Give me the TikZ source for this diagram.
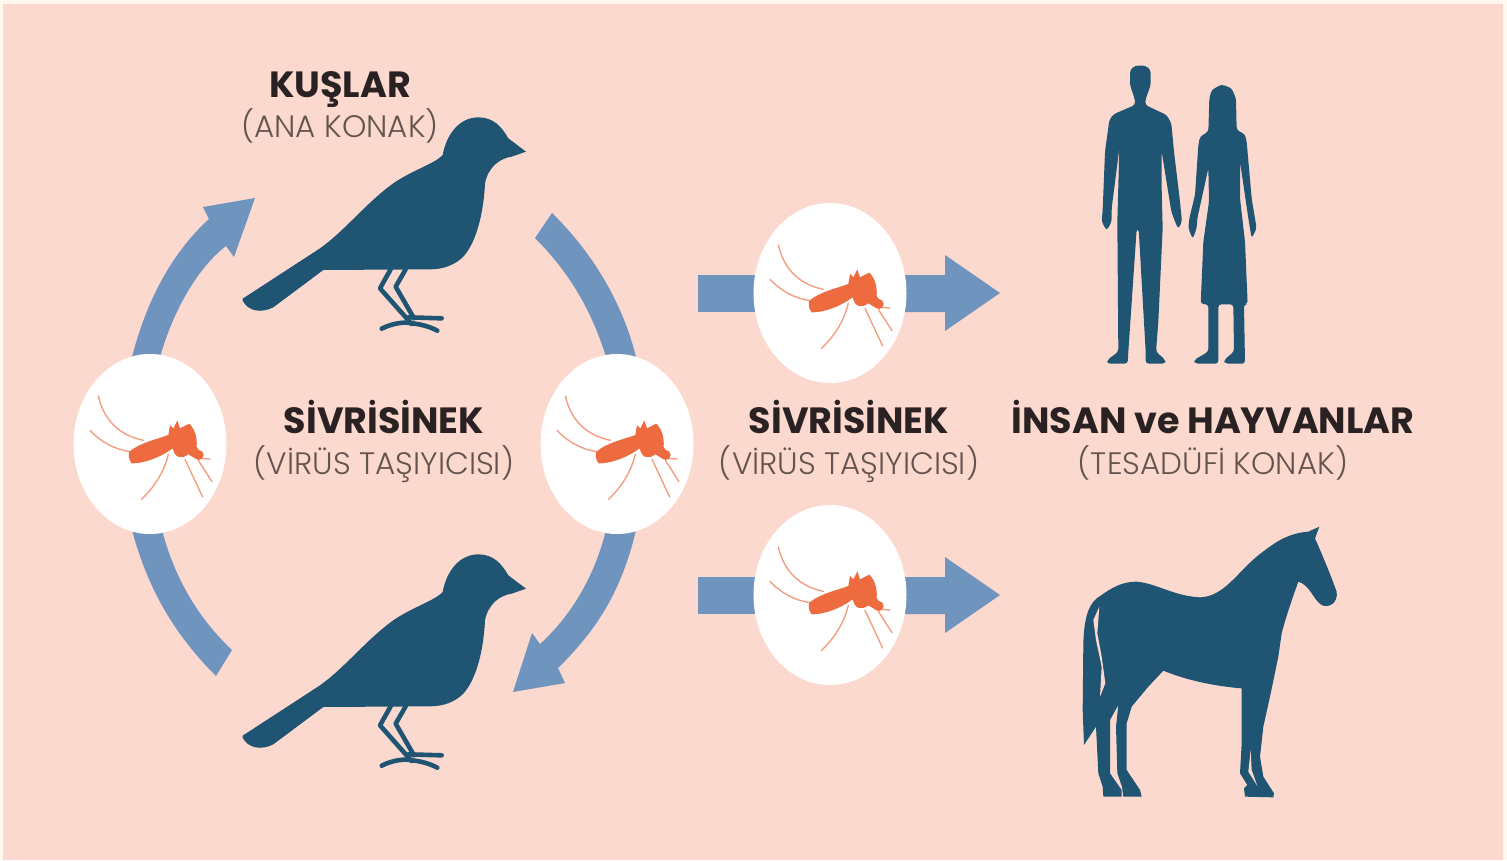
\documentclass[tikz,border=0pt]{standalone}
\usepackage{fontspec}
\setmainfont{Poppins}
\newfontfamily\lightfont{Poppins Light}
\usetikzlibrary{shapes.geometric}
\definecolor{bgpink}{HTML}{FCD9CF}
\definecolor{edgecream}{HTML}{FFF8EE}
\definecolor{darkblue}{HTML}{1F5472}
\definecolor{midblue}{HTML}{6F94BE}
\definecolor{moscolor}{HTML}{EE6A3F}
\definecolor{headtext}{HTML}{2A2123}
\definecolor{subtext}{HTML}{64544F}
\tikzset{
  disc/.style={ellipse,fill=white,minimum width=153pt,minimum height=180pt,inner sep=0pt},
  headlabel/.style={anchor=base,inner sep=0pt,text=headtext,font=\fontsize{36.5}{38}\selectfont\bfseries},
  sublabel/.style={anchor=base,inner sep=0pt,text=subtext,font=\fontsize{31}{33}\selectfont\lightfont},
  flowshape/.style={fill=midblue},
  silhouette/.style={fill=darkblue,rounded corners=3pt},
  slit/.style={fill=bgpink},
  birdleg/.style={draw=darkblue,line width=4.6pt,line cap=round,line join=round},
  mosleg/.style={draw=moscolor!65!white,line width=1.4pt,line cap=round},
}
\newcommand{\birdshape}[2]{%
\begin{scope}[shift={(#1,#2)},scale=0.33333]
\fill[darkblue] (38,716) -- (270,565) .. controls (340,515) and (400,440) .. (470,385)
 .. controls (530,335) and (610,315) .. (638,285) .. controls (650,220) and (690,172) .. (745,172)
 .. controls (790,172) and (815,200) .. (835,235) -- (888,275) -- (845,290)
 .. controls (810,295) and (775,320) .. (765,370) .. controls (762,440) and (745,540) .. (700,590)
 .. controls (675,615) and (640,628) .. (600,628)
 -- (280,630) -- (130,742) .. controls (95,760) and (55,755) .. (38,722) -- cycle;
\draw[birdleg] (482,628) -- (450,685) -- (545,792);
\draw[birdleg] (527,628) -- (497,680) -- (552,775);
\draw[birdleg] (455,806) .. controls (490,788) and (530,785) .. (545,790) .. controls (570,792) and (600,800) .. (622,812);
\draw[birdleg] (535,772) -- (635,775);
\end{scope}}
\newcommand{\mosqshape}[2]{%
\begin{scope}[shift={(#1-90,#2-103)},scale=0.33333]
\draw[mosleg] (115,165) .. controls (135,250) and (190,285) .. (250,298);
\draw[mosleg] (90,268) .. controls (125,305) and (165,325) .. (210,332);
\draw[mosleg] (325,340) .. controls (310,400) and (280,440) .. (245,475);
\draw[mosleg] (375,355) -- (428,468);
\draw[mosleg] (415,358) -- (456,422);
\draw[mosleg] (420,352) -- (450,354);
\fill[moscolor] (208,332) .. controls (240,305) and (290,295) .. (325,282) -- (330,252) -- (340,262) -- (352,238)
 -- (360,262) -- (388,248) .. controls (405,265) and (412,290) .. (410,318) -- (428,345) -- (405,352) -- (385,340)
 .. controls (365,355) and (345,352) .. (338,322) .. controls (300,350) and (250,368) .. (215,367) .. controls (205,355) and (205,342) .. (208,332) -- cycle;
\fill[moscolor] (416,342) circle [radius=15];
\end{scope}}
\begin{document}
\begin{tikzpicture}[x=1pt,y=-1pt]
\useasboundingbox (0,0) rectangle (1507,860);
\fill[edgecream] (0,0) rectangle (1507,860);
\fill[bgpink] (3,4) rectangle (1503,860);
% ring arrows
\fill[flowshape] (132,357) .. controls (148,295) and (175,250) .. (209,219) -- (203,207) -- (255,198) -- (234,257) -- (226,246)
 .. controls (195,270) and (172,315) .. (160,357) -- cycle;
\fill[flowshape] (552,213) .. controls (590,250) and (622,300) .. (636,357) -- (606,357)
 .. controls (590,305) and (565,268) .. (535,238) -- cycle;
\fill[flowshape] (132,530) .. controls (148,590) and (175,635) .. (216,676) -- (232,650)
 .. controls (200,620) and (175,580) .. (162,530) -- cycle;
\fill[flowshape] (636,530) .. controls (622,590) and (597,630) .. (558,668) -- (565,683) -- (513,692) -- (532,633) -- (540,644)
 .. controls (572,615) and (595,575) .. (606,530) -- cycle;
% straight arrows
\fill[flowshape] (698,275) rectangle (760,312);
\fill[flowshape] (900,275) -- (945,275) -- (945,255) -- (1000,293) -- (945,331) -- (945,312) -- (900,312) -- cycle;
\fill[flowshape] (698,577) rectangle (760,614);
\fill[flowshape] (900,577) -- (945,577) -- (945,557) -- (1000,595) -- (945,633) -- (945,614) -- (900,614) -- cycle;
% discs
\node[disc] (d1) at (150,444) {};
\node[disc] (d2) at (617,444) {};
\node[disc] (d3) at (830,293) {};
\node[disc] (d4) at (830,595) {};
\mosqshape{150}{444}
\mosqshape{617}{444}
\mosqshape{830}{293}
\mosqshape{830}{595}
% birds
\birdshape{230}{60}
\birdshape{230}{497}
% people
\begin{scope}[shift={(1080,55)},scale=0.33333]
\fill[silhouette] (150,45) -- (165,32) -- (197,32) -- (212,45) -- (212,90) -- (196,135) -- (196,150) -- (260,180) -- (274,205)
 -- (282,290) -- (300,440) -- (306,500) -- (295,522) -- (285,500) -- (274,470) -- (245,290) -- (245,400) -- (248,520) -- (235,800)
 -- (228,890) -- (256,915) -- (256,926) -- (197,926) -- (197,890) -- (176,522) -- (170,522) -- (145,890) -- (143,926) -- (82,926)
 -- (82,915) -- (115,890) -- (112,500) -- (118,280) -- (95,460) -- (95,500) -- (80,527) -- (65,500) -- (68,465) -- (75,290) -- (88,195)
 -- (100,178) -- (165,150) -- (165,135) -- (150,90) -- cycle;
\fill[silhouette] (425,88) -- (395,105) -- (388,130) -- (385,230) -- (360,245) -- (355,270) -- (345,420) -- (328,490) -- (325,520)
 -- (338,552) -- (350,520) -- (352,490) -- (385,340) -- (387,440) -- (370,560) -- (362,747) -- (385,748) -- (385,890) -- (342,915)
 -- (345,926) -- (415,926) -- (415,748) -- (460,748) -- (462,890) -- (432,915) -- (435,926) -- (495,926) -- (492,748) -- (503,747)
 -- (495,560) -- (480,430) -- (480,320) -- (505,490) -- (515,550) -- (530,520) -- (525,490) -- (515,430) -- (500,260) -- (495,238)
 -- (470,225) -- (468,130) -- (455,100) -- cycle;
\end{scope}
% horse
\begin{scope}[shift={(1060,510)},scale=0.33333]
\fill[darkblue] (778,50) -- (765,85) .. controls (785,130) and (810,190) .. (830,245) .. controls (835,280) and (805,295) .. (785,285)
 .. controls (760,270) and (750,225) .. (715,215) .. controls (695,270) and (675,330) .. (665,370) -- (655,440) -- (630,560) -- (610,650) -- (600,740) -- (610,800) -- (642,850) -- (640,862) -- (555,860)
 -- (552,835) -- (562,825) -- (540,790) -- (545,700) -- (545,535) .. controls (480,530) and (390,515) .. (310,482) -- (265,530) -- (215,590)
 -- (200,640) -- (200,780) -- (240,840) -- (245,860) -- (190,860) -- (186,830) -- (172,790) -- (168,650) -- (175,585) -- (150,630)
 -- (150,790) -- (185,840) -- (185,860) -- (130,860) -- (128,830) -- (115,790) -- (108,650) -- (72,705) -- (68,600) -- (70,400)
 .. controls (72,340) and (80,290) .. (110,265) .. controls (140,245) and (175,215) .. (230,215) .. controls (290,220) and (340,258) .. (420,262)
 .. controls (490,260) and (530,190) .. (590,140) .. controls (640,100) and (680,70) .. (745,65) -- cycle;
\fill[slit] (118,290) -- (100,330) -- (108,390) -- (125,470) -- (120,560) -- (136,520) -- (125,440) -- (112,370) -- cycle;
\fill[slit] (572,720) -- (565,785) -- (592,828) -- (575,780) -- cycle;
\end{scope}
% labels
\node[headlabel] (t1) at (340,97) {KUŞLAR};
\node[sublabel] (s1) at (340,137) {(ANA KONAK)};
\node[headlabel] (t2) at (384,433) {SİVRİSİNEK};
\node[sublabel] (s2) at (384,474) {(VİRÜS TAŞIYICISI)};
\node[headlabel] (t3) at (849,433) {SİVRİSİNEK};
\node[sublabel] (s3) at (849,474) {(VİRÜS TAŞIYICISI)};
\node[headlabel] (t4) at (1213,433) {İNSAN ve HAYVANLAR};
\node[sublabel] (s4) at (1213,474) {(TESADÜFİ KONAK)};
\end{tikzpicture}
\end{document}
